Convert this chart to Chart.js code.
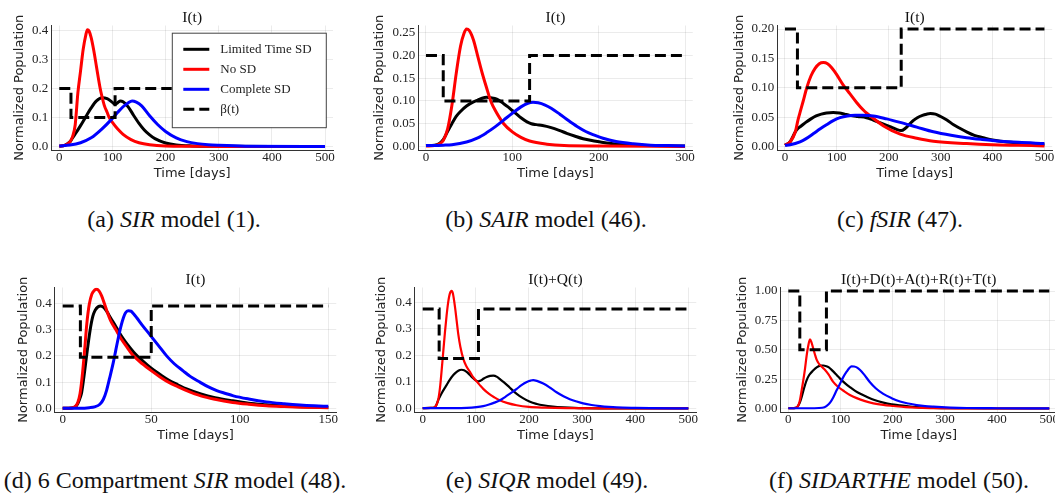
<!DOCTYPE html>
<html>
<head>
<meta charset="utf-8">
<script src="https://cdn.jsdelivr.net/npm/chart.js@4.4.1/dist/chart.umd.min.js"></script>
<style>
  html, body { margin: 0; padding: 0; background: #fff; width: 1055px; height: 498px; overflow: hidden; }
  body { position: relative; }
  canvas { position: absolute; }
  .cap { position: absolute; font-family: "Liberation Serif", serif; font-size: 24px; line-height: 24px;
         white-space: nowrap; transform: translateX(-50%); color: #111; }
</style>
</head>
<body>
<canvas id="pa" width="351" height="185" style="left:0px;top:0px"></canvas>
<canvas id="pb" width="352" height="185" style="left:351px;top:0px"></canvas>
<canvas id="pc" width="352" height="185" style="left:703px;top:0px"></canvas>
<canvas id="pd" width="351" height="185" style="left:0px;top:262px"></canvas>
<canvas id="pe" width="352" height="185" style="left:351px;top:262px"></canvas>
<canvas id="pf" width="360" height="185" style="left:703px;top:262px"></canvas>

<div class="cap" style="left:174px;top:207px">(a) <i>SIR</i> model (1).</div>
<div class="cap" style="left:546px;top:207px">(b) <i>SAIR</i> model (46).</div>
<div class="cap" style="left:900px;top:207px">(c) <i>fSIR</i> (47).</div>
<div class="cap" style="left:175px;top:468px">(d) 6 Compartment <i>SIR</i> model (48).</div>
<div class="cap" style="left:547px;top:468px">(e) <i>SIQR</i> model (49).</div>
<div class="cap" style="left:899px;top:468px">(f) <i>SIDARTHE</i> model (50).</div>

<script>
// ---- (a) SIR model ----
const aLimitedT = [0, 10, 20, 25, 30, 40, 50, 60, 70, 80, 90, 100, 105, 110, 115, 120, 130, 140, 150, 160, 170, 180, 200, 220, 250, 300, 400, 500];
const aLimited  = [0.001, 0.004, 0.016, 0.03, 0.043, 0.072, 0.103, 0.133, 0.157, 0.168, 0.165, 0.152, 0.145, 0.151, 0.157, 0.154, 0.136, 0.107, 0.08, 0.057, 0.04, 0.027, 0.012, 0.005, 0.002, 0.001, 0, 0];
const aNoSdT = [0, 10, 20, 25, 30, 35, 40, 45, 50, 53, 56, 60, 65, 70, 77, 80, 85, 90, 94, 100, 110, 120, 135, 150, 170, 200, 250, 300, 500];
const aNoSd  = [0.001, 0.004, 0.016, 0.034, 0.075, 0.185, 0.26, 0.335, 0.385, 0.402, 0.398, 0.375, 0.33, 0.275, 0.2, 0.175, 0.14, 0.118, 0.1, 0.083, 0.06, 0.042, 0.024, 0.013, 0.006, 0.002, 0.001, 0, 0];
const aCompleteT = [0, 20, 40, 60, 80, 100, 110, 120, 130, 137, 145, 155, 170, 185, 200, 220, 240, 260, 280, 300, 350, 500];
const aComplete  = [0.002, 0.005, 0.013, 0.03, 0.06, 0.097, 0.118, 0.137, 0.151, 0.157, 0.153, 0.14, 0.106, 0.076, 0.052, 0.03, 0.017, 0.01, 0.006, 0.004, 0.001, 0];
const aBetaT = [0, 22, 105, 500];
const aBeta  = [0.2, 0.1, 0.2, 0.2];

// ---- (b) SAIR model ----
const bLimitedT = [0, 10, 15, 20, 25, 30, 35, 40, 47, 55, 60, 65, 70, 75, 82, 90, 95, 100, 105, 110, 117, 122, 128, 135, 144, 155, 163, 172, 182, 192, 202, 212, 221, 240, 260, 300];
const bLimited  = [0.002, 0.003, 0.006, 0.015, 0.033, 0.05, 0.066, 0.077, 0.089, 0.098, 0.102, 0.106, 0.108, 0.107, 0.104, 0.094, 0.087, 0.079, 0.071, 0.063, 0.054, 0.05, 0.048, 0.046, 0.042, 0.035, 0.029, 0.023, 0.017, 0.013, 0.01, 0.007, 0.005, 0.003, 0.002, 0.001];
const bNoSdT = [0, 10, 15, 20, 25, 30, 35, 40, 44, 47, 50, 55, 60, 65, 70, 75, 80, 90, 100, 110, 120, 140, 160, 200, 300];
const bNoSd  = [0.001, 0.002, 0.005, 0.013, 0.038, 0.09, 0.16, 0.22, 0.248, 0.258, 0.255, 0.234, 0.198, 0.162, 0.13, 0.1, 0.08, 0.05, 0.032, 0.02, 0.012, 0.005, 0.002, 0.001, 0];
const bCompleteT = [0, 20, 30, 47, 60, 70, 80, 90, 100, 110, 118, 124, 130, 138, 145, 155, 165, 175, 185, 195, 205, 220, 240, 260, 280, 300];
const bComplete  = [0.002, 0.003, 0.004, 0.01, 0.019, 0.03, 0.043, 0.058, 0.073, 0.087, 0.095, 0.097, 0.096, 0.091, 0.084, 0.071, 0.057, 0.044, 0.033, 0.025, 0.018, 0.011, 0.006, 0.003, 0.002, 0.001];
const bBetaT = [0, 20, 120, 300];
const bBeta  = [0.2, 0.1, 0.2, 0.2];

// ---- (c) fSIR ----
const cLimitedT = [0, 10, 20, 24, 30, 40, 50, 60, 70, 80, 93, 105, 115, 125, 140, 157, 170, 190, 205, 215, 224, 232, 240, 247, 255, 265, 273, 280, 290, 300, 312, 325, 337, 350, 365, 382, 400, 415, 450, 479, 500];
const cLimited  = [0.002, 0.008, 0.025, 0.03, 0.034, 0.041, 0.047, 0.052, 0.055, 0.057, 0.058, 0.057, 0.055, 0.053, 0.051, 0.049, 0.045, 0.038, 0.033, 0.029, 0.027, 0.031, 0.038, 0.044, 0.049, 0.053, 0.055, 0.056, 0.055, 0.051, 0.045, 0.037, 0.031, 0.025, 0.019, 0.015, 0.011, 0.009, 0.006, 0.004, 0.003];
const cNoSdT = [0, 10, 20, 25, 29, 35, 42, 50, 58, 66, 74, 82, 90, 100, 112, 125, 138, 151, 157, 170, 190, 222, 254, 286, 350, 400, 450, 500];
const cNoSd  = [0.002, 0.008, 0.025, 0.045, 0.058, 0.077, 0.1, 0.12, 0.133, 0.141, 0.143, 0.141, 0.134, 0.122, 0.105, 0.09, 0.075, 0.062, 0.057, 0.048, 0.035, 0.021, 0.014, 0.009, 0.005, 0.003, 0.002, 0.001];
const cCompleteT = [0, 10, 29, 40, 55, 68, 80, 93, 106, 120, 135, 150, 170, 196, 222, 254, 286, 320, 350, 380, 415, 450, 500];
const cComplete  = [0.002, 0.003, 0.008, 0.013, 0.022, 0.03, 0.037, 0.044, 0.049, 0.052, 0.053, 0.053, 0.052, 0.047, 0.041, 0.033, 0.025, 0.019, 0.015, 0.012, 0.009, 0.007, 0.005];
const cBetaT = [0, 24, 224, 500];
const cBeta  = [0.2, 0.1, 0.2, 0.2];

// ---- (d) 6 compartment SIR ----
const dLimitedT = [0, 5, 7, 8.5, 9.8, 10.7, 12, 13.5, 15.4, 17, 18.3, 20, 21.5, 23, 25, 27, 30, 33, 36, 40, 45, 50, 55, 60, 65, 70, 78, 86, 96, 105, 115, 125, 135, 150];
const dLimited  = [0.001, 0.002, 0.006, 0.018, 0.04, 0.06, 0.12, 0.2, 0.294, 0.35, 0.373, 0.387, 0.39, 0.385, 0.368, 0.345, 0.312, 0.277, 0.248, 0.215, 0.182, 0.153, 0.129, 0.107, 0.09, 0.074, 0.055, 0.041, 0.029, 0.02, 0.014, 0.009, 0.006, 0.004];
const dNoSdT = [0, 5, 7, 8.5, 9.8, 11, 12.5, 13.6, 15, 16.5, 18, 19.2, 20.5, 22, 23.5, 25, 27, 30, 33, 36, 40, 45, 50, 55, 60, 65, 70, 78, 86, 96, 105, 115, 125, 135, 150];
const dNoSd  = [0.001, 0.002, 0.007, 0.022, 0.056, 0.12, 0.23, 0.32, 0.395, 0.435, 0.45, 0.453, 0.447, 0.428, 0.4, 0.37, 0.335, 0.3, 0.265, 0.236, 0.2, 0.17, 0.144, 0.12, 0.099, 0.083, 0.068, 0.048, 0.035, 0.023, 0.016, 0.01, 0.007, 0.005, 0.003];
const dCompleteT = [0, 10, 15, 18, 21, 23, 24.8, 26.5, 28.6, 30, 31.4, 33, 34.3, 35.5, 37, 38.5, 40, 41.8, 45, 49.3, 54, 58.7, 63, 68, 72, 77.5, 82, 87, 92, 96.4, 105, 115, 125, 134, 142, 150];
const dComplete  = [0.001, 0.001, 0.003, 0.006, 0.016, 0.035, 0.069, 0.115, 0.175, 0.222, 0.268, 0.315, 0.345, 0.364, 0.372, 0.37, 0.36, 0.345, 0.316, 0.28, 0.24, 0.2, 0.17, 0.143, 0.122, 0.1, 0.083, 0.068, 0.057, 0.048, 0.036, 0.025, 0.018, 0.013, 0.01, 0.008];
const dBetaT = [0, 10, 50, 150];
const dBeta  = [0.39, 0.195, 0.39, 0.39];

// ---- (e) SIQR model ----
const eLimitedT = [0, 15, 23, 26, 29.5, 32.6, 36, 40, 45, 50, 57.7, 64, 70, 73.4, 78, 84, 89, 95, 100, 105, 110, 115, 120.5, 127, 133, 140, 147, 152, 160, 168, 177, 188, 202, 215, 227, 245, 265, 302, 400, 500];
const eLimited  = [0.001, 0.002, 0.005, 0.014, 0.033, 0.045, 0.058, 0.072, 0.088, 0.105, 0.126, 0.138, 0.145, 0.146, 0.144, 0.136, 0.126, 0.114, 0.106, 0.102, 0.106, 0.113, 0.119, 0.123, 0.124, 0.119, 0.108, 0.1, 0.086, 0.071, 0.055, 0.04, 0.025, 0.017, 0.012, 0.007, 0.004, 0.001, 0, 0];
const eNoSdT = [0, 15, 23, 26, 29.5, 33, 36, 39, 42, 45, 48, 51, 54.6, 57, 61, 64, 67, 71, 76.5, 82, 89, 95, 101.6, 108, 114, 125, 135, 145, 160, 177, 200, 230, 270, 350, 500];
const eNoSd  = [0.001, 0.002, 0.005, 0.014, 0.035, 0.085, 0.15, 0.22, 0.289, 0.35, 0.4, 0.432, 0.443, 0.432, 0.38, 0.33, 0.28, 0.232, 0.187, 0.16, 0.138, 0.118, 0.102, 0.087, 0.074, 0.055, 0.042, 0.031, 0.02, 0.012, 0.006, 0.003, 0.001, 0, 0];
const eCompleteT = [0, 60, 83, 101, 114, 125, 135, 145.5, 155, 165, 177, 186, 196, 203, 208, 215, 227, 240, 252, 265, 277, 290, 302, 318, 334, 350, 365, 400, 428, 500];
const eComplete  = [0.001, 0.001, 0.002, 0.005, 0.009, 0.015, 0.022, 0.031, 0.043, 0.057, 0.074, 0.088, 0.1, 0.105, 0.107, 0.104, 0.094, 0.078, 0.061, 0.046, 0.035, 0.026, 0.019, 0.013, 0.009, 0.006, 0.004, 0.002, 0.001, 0];
const eBetaT = [0, 31, 105, 500];
const eBeta  = [0.375, 0.188, 0.375, 0.375];

// ---- (f) SIDARTHE model ----
const fLimitedT = [0, 10, 16, 19, 22, 25, 28.7, 32, 35, 40, 48, 55, 61, 67, 73, 77, 85, 92.6, 100, 110, 118, 128, 138, 150, 165, 182, 198, 214, 230, 246, 262, 278, 310, 400, 500];
const fLimited  = [0.002, 0.003, 0.008, 0.025, 0.05, 0.09, 0.15, 0.2, 0.24, 0.285, 0.325, 0.352, 0.365, 0.366, 0.36, 0.352, 0.32, 0.285, 0.25, 0.21, 0.182, 0.15, 0.125, 0.1, 0.072, 0.05, 0.035, 0.026, 0.018, 0.012, 0.008, 0.005, 0.002, 0, 0];
const fNoSdT = [0, 10, 16, 19, 22, 25, 28.7, 32, 35, 38, 41.5, 44.5, 48, 51, 54, 58, 64, 70, 77, 86, 95, 105, 118, 131, 147, 163, 182, 201, 225, 246, 278, 320, 400, 500];
const fNoSd  = [0.002, 0.003, 0.008, 0.025, 0.065, 0.14, 0.24, 0.34, 0.447, 0.53, 0.588, 0.56, 0.506, 0.46, 0.418, 0.385, 0.355, 0.33, 0.29, 0.226, 0.185, 0.153, 0.115, 0.088, 0.063, 0.044, 0.03, 0.021, 0.011, 0.006, 0.003, 0.001, 0, 0];
const fCompleteT = [0, 50, 65, 73, 80, 86, 92, 99, 105, 112, 117, 121, 126, 131, 137, 145, 156, 168, 182, 198, 214, 230, 246, 262, 278, 310, 342, 400, 500];
const fComplete  = [0.002, 0.002, 0.006, 0.02, 0.05, 0.094, 0.15, 0.21, 0.265, 0.315, 0.345, 0.359, 0.357, 0.35, 0.33, 0.29, 0.226, 0.17, 0.124, 0.088, 0.059, 0.042, 0.029, 0.02, 0.015, 0.008, 0.004, 0.002, 0.001];
const fBetaT = [0, 22, 73, 500];
const fBeta  = [1, 0.5, 1, 1];

// tick labels
const ticks500 = [0, 100, 200, 300, 400, 500];
const ticks300 = [0, 100, 200, 300];
const ticks150 = [0, 50, 100, 150];
const yTicksTenths = [0, 0.1, 0.2, 0.3, 0.4];
const yTicksB = [0, 0.05, 0.1, 0.15, 0.2, 0.25];
const yTicksC = [0, 0.05, 0.1, 0.15, 0.2];
const yTicksF = [0, 0.25, 0.5, 0.75, 1];

const seriesLabels = ["Limited Time SD", "No SD", "Complete SD", "β(t)"];

const pts = (t, v) => t.map((x, i) => ({ x: x, y: v[i] }));

// title drawn just above the plot area
const panelTitle = {
  id: "panelTitle",
  afterDraw(chart, args, opts) {
    const ctx = chart.ctx, ca = chart.chartArea;
    ctx.save();
    ctx.font = '15.5px "Liberation Serif"';
    ctx.fillStyle = "#111";
    ctx.textAlign = "center";
    ctx.textBaseline = "middle";
    ctx.fillText(opts.text, (ca.left + ca.right) / 2, ca.top - 7.5);
    ctx.restore();
  }
};

// boxed legend inside the plot, only on panel (a)
const boxLegend = {
  id: "boxLegend",
  afterDraw(chart, args, opts) {
    if (!opts.show) return;
    const ctx = chart.ctx, ca = chart.chartArea;
    const x0 = ca.left + 120.5, y0 = ca.top + 7.2, w = 154, h = 94.5;
    ctx.save();
    ctx.fillStyle = "#fff";
    ctx.fillRect(x0, y0, w, h);
    ctx.strokeStyle = "#444";
    ctx.lineWidth = 1;
    ctx.strokeRect(x0 + 0.5, y0 + 0.5, w, h);
    ctx.font = '13px "Liberation Serif"';
    ctx.textBaseline = "middle";
    chart.data.datasets.forEach((ds, i) => {
      const y = y0 + 16.6 + i * 20;
      ctx.strokeStyle = ds.borderColor;
      ctx.lineWidth = 3;
      ctx.setLineDash(ds.borderDash || []);
      ctx.beginPath();
      ctx.moveTo(x0 + 11.5, y);
      ctx.lineTo(x0 + 37.5, y);
      ctx.stroke();
      ctx.setLineDash([]);
      ctx.fillStyle = "#222";
      ctx.fillText(ds.label, x0 + 48.5, y);
    });
    ctx.restore();
  }
};

function makePanel(id, c) {
  const tickFont = { family: "Liberation Serif", size: 13 };
  const labelFont = { family: "DejaVu Sans", size: 13 };
  const grid = { color: "rgba(0,0,0,0.08)", lineWidth: 1, drawTicks: false };
  const border = { color: "#333", width: 1 };
  new Chart(document.getElementById(id), {
    type: "line",
    data: {
      datasets: [
        { label: seriesLabels[0], data: pts(c.limT, c.lim), borderColor: "#000000", borderWidth: c.lw, order: 4 },
        { label: seriesLabels[1], data: pts(c.noT, c.no), borderColor: "#ff0000", borderWidth: c.lw, order: 3 },
        { label: seriesLabels[2], data: pts(c.comT, c.com), borderColor: "#0000ff", borderWidth: c.lw, order: 2 },
        { label: seriesLabels[3], data: pts(c.betaT, c.beta), borderColor: "#000000", borderWidth: 3,
          borderDash: [11, 5], stepped: "before", order: 1 }
      ]
    },
    options: {
      responsive: false,
      animation: false,
      events: [],
      layout: { autoPadding: false, padding: { top: c.padTop, right: c.padRight, left: 0, bottom: 0 } },
      elements: {
        point: { radius: 0 },
        line: { cubicInterpolationMode: "monotone", borderCapStyle: "butt", fill: false }
      },
      scales: {
        x: {
          type: "linear", min: c.xMin, max: c.xMax,
          afterBuildTicks: (s) => { s.ticks = c.xTicks.map((v) => ({ value: v })); },
          afterFit: (s) => { s.height = 35; },
          ticks: { font: tickFont, color: "#222", padding: 0, maxRotation: 0, callback: (v) => String(v) },
          grid: grid, border: border,
          title: { display: true, text: "Time [days]", font: labelFont, color: "#222", padding: { top: 0, bottom: 4 } }
        },
        y: {
          type: "linear", min: c.yMin, max: c.yMax,
          afterBuildTicks: (s) => { s.ticks = c.yTicks.map((v) => ({ value: v })); },
          afterFit: (s) => { s.width = c.yWidth; },
          ticks: { font: tickFont, color: "#222", padding: 3, callback: (v) => v.toFixed(c.dec) },
          grid: grid, border: border,
          title: { display: true, text: "Normalized Population", font: labelFont, color: "#222",
                   padding: { top: c.yTitlePad, bottom: 0 } }
        }
      },
      plugins: {
        legend: { display: false },
        tooltip: { enabled: false },
        panelTitle: { text: c.title },
        boxLegend: { show: !!c.legend }
      }
    },
    plugins: [panelTitle, boxLegend]
  });
}

makePanel("pa", { limT: aLimitedT, lim: aLimited, noT: aNoSdT, no: aNoSd, comT: aCompleteT, com: aComplete,
  betaT: aBetaT, beta: aBeta, lw: 3, title: "I(t)", legend: true,
  xMin: -15, xMax: 515, xTicks: ticks500, yMin: -0.012, yMax: 0.417, yTicks: yTicksTenths, dec: 1,
  padTop: 25.5, padRight: 18, yWidth: 51.3, yTitlePad: 11.7 });

makePanel("pb", { limT: bLimitedT, lim: bLimited, noT: bNoSdT, no: bNoSd, comT: bCompleteT, com: bComplete,
  betaT: bBetaT, beta: bBeta, lw: 3, title: "I(t)",
  xMin: -9, xMax: 309, xTicks: ticks300, yMin: -0.0077, yMax: 0.2657, yTicks: yTicksB, dec: 2,
  padTop: 25.5, padRight: 10.2, yWidth: 67.2, yTitlePad: 21.2 });

makePanel("pc", { limT: cLimitedT, lim: cLimited, noT: cNoSdT, no: cNoSd, comT: cCompleteT, com: cComplete,
  betaT: cBetaT, beta: cBeta, lw: 3, title: "I(t)",
  xMin: -15, xMax: 515, xTicks: ticks500, yMin: -0.006, yMax: 0.206, yTicks: yTicksC, dec: 2,
  padTop: 25.5, padRight: 2.8, yWidth: 74.2, yTitlePad: 29.2 });

makePanel("pd", { limT: dLimitedT, lim: dLimited, noT: dNoSdT, no: dNoSd, comT: dCompleteT, com: dComplete,
  betaT: dBetaT, beta: dBeta, lw: 3, title: "I(t)",
  xMin: -4.5, xMax: 154.5, xTicks: ticks150, yMin: -0.0135, yMax: 0.46, yTicks: yTicksTenths, dec: 1,
  padTop: 25.5, padRight: 14.7, yWidth: 54.7, yTitlePad: 16.2 });

makePanel("pe", { limT: eLimitedT, lim: eLimited, noT: eNoSdT, no: eNoSd, comT: eCompleteT, com: eComplete,
  betaT: eBetaT, beta: eBeta, lw: 2.2, title: "I(t)+Q(t)",
  xMin: -15, xMax: 515, xTicks: ticks500, yMin: -0.0133, yMax: 0.456, yTicks: yTicksTenths, dec: 1,
  padTop: 25.5, padRight: 6.7, yWidth: 63.7, yTitlePad: 23.2 });

makePanel("pf", { limT: fLimitedT, lim: fLimited, noT: fNoSdT, no: fNoSd, comT: fCompleteT, com: fComplete,
  betaT: fBetaT, beta: fBeta, lw: 2.2, title: "I(t)+D(t)+A(t)+R(t)+T(t)",
  xMin: -15, xMax: 515, xTicks: ticks500, yMin: -0.03, yMax: 1.03, yTicks: yTicksF, dec: 2,
  padTop: 25.5, padRight: 5.9, yWidth: 77.5, yTitlePad: 32.2 });
</script>
</body>
</html>
